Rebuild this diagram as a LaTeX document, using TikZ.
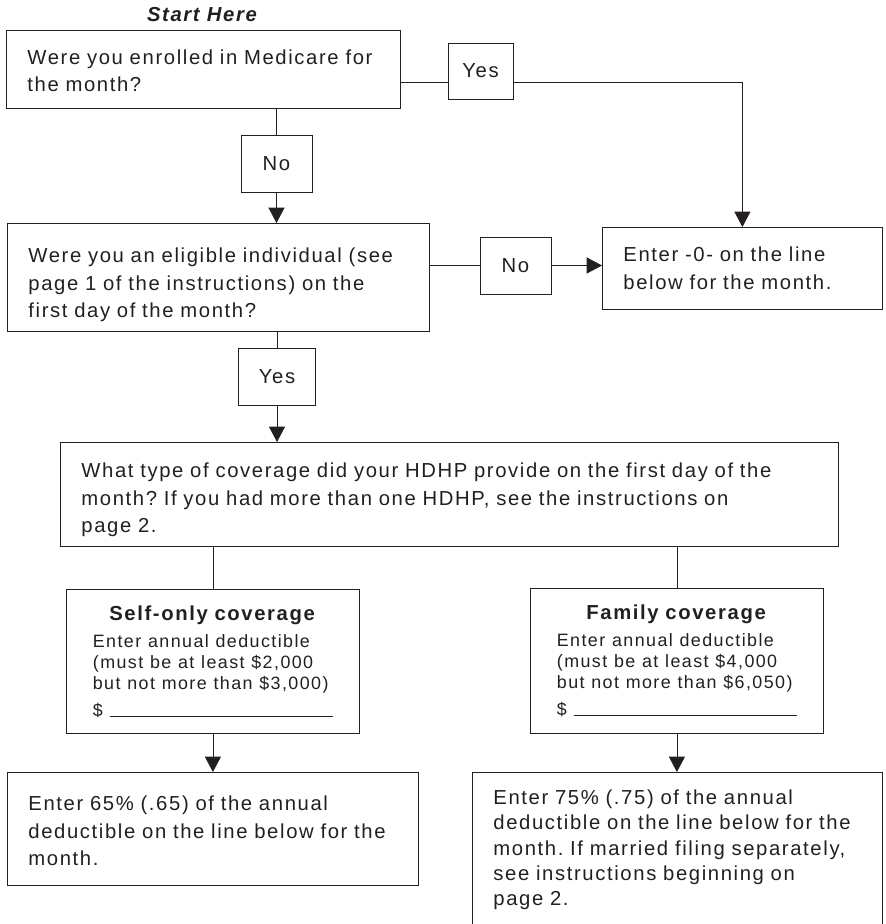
\documentclass[tikz,border=0pt]{standalone}
\usepackage{fontspec}
\setmainfont{Liberation Sans}[LetterSpace=8]
\usepackage{tikz}
\usetikzlibrary{positioning}
\usetikzlibrary{shapes,arrows,calc,arrows.meta}
\definecolor{ink}{RGB}{35,31,32}
\newcommand\bodyfont{\fontsize{15.2pt}{20.6pt}\selectfont}
\newcommand\smallfont{\fontsize{13.4pt}{15.75pt}\selectfont}
\newcommand\lift[1]{\rule{0pt}{\dimexpr 11.2pt+#1\relax}}
\frenchspacing

\begin{document}
\begin{tikzpicture}[x=0.75pt, y=-0.75pt, font=\bodyfont, ink, line width=0.6pt,
    >={Triangle[width=12pt,length=11.5pt]},
    qbox/.style={draw, rectangle, anchor=north west, align=left, inner xsep=15.75pt, inner ysep=0pt},
    ansbox/.style={draw, rectangle, inner sep=0pt, minimum height=42.75pt}]
    \useasboundingbox (0,0) rectangle (885,924);
    % Nodes
    \node [font=\bodyfont\bfseries\itshape, anchor=base] (start) at (202,22) {Start Here};
    \node [qbox, text width=264pt, minimum height=58.5pt] (medicare) at (6,30)
        {\lift{2pt}Were you enrolled in Medicare for\\the month?};
    \node [ansbox, minimum width=48.75pt, minimum height=42pt] (yes1) at (480.5,71) {Yes};
    \node [ansbox, minimum width=53.25pt] (no1) at (276.5,163.5) {No};
    \node [qbox, text width=285pt, minimum height=81pt] (elig) at (7,223)
        {\lift{11pt}Were you an eligible individual (see\\page 1 of the instructions) on the\\first day of the month?};
    \node [ansbox, minimum width=53.25pt] (no2) at (515.5,265.5) {No};
    \node [qbox, text width=178.5pt, minimum height=61.5pt] (zero) at (602,227)
        {Enter -0- on the line\\below for the month.};
    \node [ansbox, minimum width=57.75pt] (yes2) at (277,376.5) {Yes};
    \node [qbox, text width=552pt, minimum height=78pt] (hdhp) at (60,442)
        {\lift{8pt}What type of coverage did your HDHP provide on the first day of the\\month? If you had more than one HDHP, see the instructions on\\page 2.};
    \node [qbox, align=center, text width=188.25pt, minimum height=108pt] (self) at (66,589)
        {\textbf{Self-only coverage}\\[-0.3pt]
        {\smallfont\begin{minipage}[t]{180pt}Enter annual deductible\\(must be at least \$2,000\\but not more than \$3,000)\\[4.5pt]\$\ \hrulefill\end{minipage}}};
    \node [qbox, align=center, text width=188.25pt, minimum height=108.75pt] (family) at (530,588)
        {\textbf{Family coverage}\\[-0.3pt]
        {\smallfont\begin{minipage}[t]{180pt}Enter annual deductible\\(must be at least \$4,000\\but not more than \$6,050)\\[4.5pt]\$\ \hrulefill\end{minipage}}};
    \node [qbox, text width=276.75pt, minimum height=84.75pt] (pct65) at (7,772)
        {\lift{3pt}Enter 65\% (.65) of the annual\\deductible on the line below for the\\month.};
    \node [qbox, font=\fontsize{15.2pt}{18.9pt}\selectfont, text width=276pt, minimum height=116.25pt] (pct75) at (472,772)
        {Enter 75\% (.75) of the annual\\deductible on the line below for the\\month. If married filing separately,\\see instructions beginning on\\page 2.};
    \coordinate (m1) at ($(medicare.south east)!0.33!(medicare.north east)$);
    % Arrows
    \draw (m1) -- (m1 -| yes1.west);
    \draw [->] (m1 -| yes1.east) -| (zero.north);
    \draw (no1.north |- medicare.south) -- (no1.north);
    \draw [->] (no1.south) -- (no1.south |- elig.north);
    \draw (no2.west -| elig.east) -- (no2.west);
    \draw [->] (no2.east) -- (no2.east -| zero.west);
    \draw (yes2.north |- elig.south) -- (yes2.north);
    \draw [->] (yes2.south) -- (yes2.south |- hdhp.north);
    \draw (self.north |- hdhp.south) -- (self.north);
    \draw (family.north |- hdhp.south) -- (family.north);
    \draw [->] (self.south) -- (self.south |- pct65.north);
    \draw [->] (family.south) -- (family.south |- pct75.north);
  \end{tikzpicture}
\end{document}
